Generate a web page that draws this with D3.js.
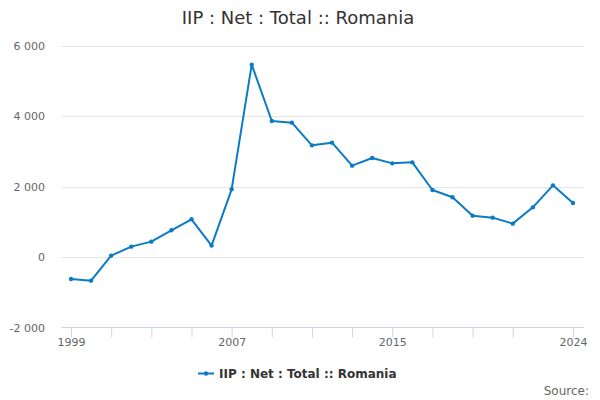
<!DOCTYPE html>
<html>
<head>
<meta charset="utf-8">
<script src="https://cdn.jsdelivr.net/npm/d3@7"></script>
<style>
  body { margin: 0; background: #fff; }
  svg { font-family: "DejaVu Sans", sans-serif; }
</style>
</head>
<body>
<div id="chart"></div>
<script>
// data
var years = [1999, 2000, 2001, 2002, 2003, 2004, 2005, 2006, 2007, 2008, 2009, 2010, 2011,
    2012, 2013, 2014, 2015, 2016, 2017, 2018, 2019, 2020, 2021, 2022, 2023, 2024];
var values = [-620, -668, 43, 298, 440, 762, 1075, 327, 1927, 5469, 3869, 3821, 3177,
    3253, 2599, 2817, 2665, 2694, 1908, 1700, 1179, 1122, 952, 1415, 2040, 1540];
var yTicks = [-2000, 0, 2000, 4000, 6000];
var xTicks = [1999, 2001, 2003, 2005, 2007, 2009, 2011, 2013, 2015, 2017, 2019, 2021, 2024];
var xLabels = [1999, 2007, 2015, 2024];
var seriesName = "IIP : Net : Total :: Romania";

var width = 600, height = 400;
var lineColor = "#0a7bc4";

var svg = d3.select("#chart")
    .append("svg")
    .attr("width", width)
    .attr("height", height);

var x = d3.scaleLinear().domain([1999, 2024]).range([71, 573]);
var y = d3.scaleLinear().domain([-2000, 6000]).range([327.5, 46]);

// title
svg.append("text")
    .attr("x", 298)
    .attr("y", 24)
    .attr("text-anchor", "middle")
    .attr("fill", "#333")
    .style("font-size", "18px")
    .text(seriesName);

// grid lines
svg.append("g")
    .selectAll("line")
    .data(yTicks.filter(d => d !== -2000))
    .enter().append("line")
    .attr("x1", 61)
    .attr("x2", 584)
    .attr("y1", d => Math.round(y(d)) + 0.5)
    .attr("y2", d => Math.round(y(d)) + 0.5)
    .attr("stroke", "#e6e6e6");

// y labels
svg.append("g")
    .selectAll("text")
    .data(yTicks)
    .enter().append("text")
    .attr("x", 45)
    .attr("y", d => y(d) + 4)
    .attr("text-anchor", "end")
    .attr("fill", "#666")
    .style("font-size", "11px")
    .text(d => d3.format(",")(d).replace(",", " ").replace("−", "-"));

// x axis
var xAxis = d3.axisBottom(x)
    .tickValues(xTicks)
    .tickSize(10)
    .tickFormat(d => xLabels.indexOf(d) >= 0 ? d : "");
var gx = svg.append("g")
    .attr("transform", "translate(0,327.5)")
    .call(xAxis);
gx.select(".domain")
    .attr("d", "M61,0H584")
    .attr("stroke", "#ccd6eb");
gx.selectAll(".tick line").attr("stroke", "#ccd6eb");
gx.selectAll(".tick text")
    .attr("fill", "#666")
    .attr("y", 11)
    .style("font-size", "11px")
    .style("font-family", "DejaVu Sans, sans-serif");

// series line
var line = d3.line()
    .x((d, i) => x(years[i]))
    .y(d => y(d));

svg.append("path")
    .datum(values)
    .attr("d", line)
    .attr("fill", "none")
    .attr("stroke", lineColor)
    .attr("stroke-width", 2)
    .attr("stroke-linejoin", "round");

svg.append("g")
    .selectAll("circle")
    .data(values)
    .enter().append("circle")
    .attr("cx", (d, i) => x(years[i]))
    .attr("cy", d => y(d))
    .attr("r", 2.2)
    .attr("fill", lineColor);

// legend
var legend = svg.append("g").attr("transform", "translate(198,373.5)");
legend.append("line")
    .attr("x1", 0).attr("x2", 16)
    .attr("stroke", lineColor)
    .attr("stroke-width", 2);
legend.append("circle")
    .attr("cx", 8).attr("r", 2.2)
    .attr("fill", lineColor);
legend.append("text")
    .attr("x", 21)
    .attr("y", 4.5)
    .attr("fill", "#333")
    .style("font-size", "12px")
    .style("font-weight", "bold")
    .text(seriesName);

// credits
svg.append("text")
    .attr("x", 589)
    .attr("y", 395)
    .attr("text-anchor", "end")
    .attr("fill", "#666")
    .style("font-size", "12px")
    .text("Source:");
</script>
</body>
</html>
